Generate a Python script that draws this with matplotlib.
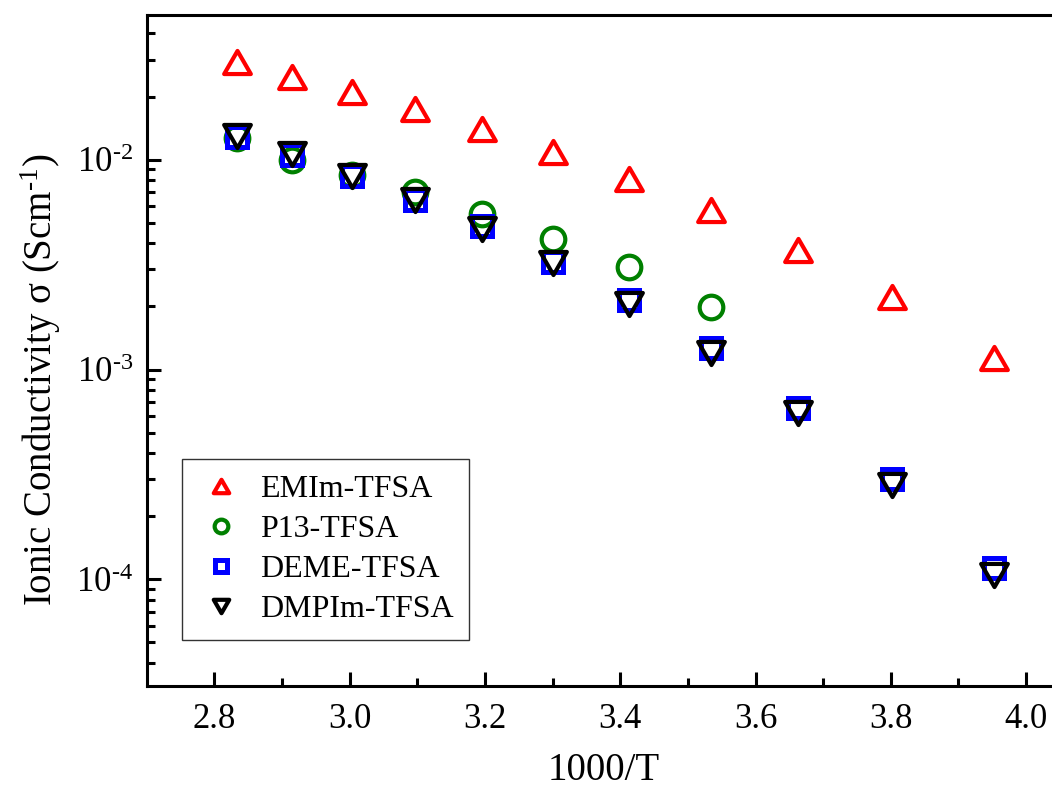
import numpy as np
import matplotlib
matplotlib.use("Agg")
import matplotlib.pyplot as plt
from matplotlib.path import Path
from matplotlib.markers import MarkerStyle
from matplotlib.ticker import LogLocator, FixedLocator, NullFormatter, FuncFormatter

plt.rcParams['font.family'] = ['Liberation Serif', 'DejaVu Serif']
plt.rcParams['mathtext.fontset'] = 'custom'
plt.rcParams['mathtext.rm'] = 'Liberation Serif'
plt.rcParams['mathtext.it'] = 'Liberation Serif:italic'
plt.rcParams['axes.unicode_minus'] = False

# ---- data ----
inv_T = [2.833, 2.915, 3.003, 3.096, 3.195, 3.300, 3.413, 3.534, 3.663, 3.802, 3.953]
emim = [0.0293, 0.0247, 0.0210, 0.0174, 0.0140, 0.0109, 0.0081, 0.00574, 0.00371, 0.00221, 0.00114]
p13 = [0.0127, 0.0100, 0.0085, 0.0070, 0.00554, 0.00417, 0.00307, 0.00198]
deme = [0.01287, 0.01056, 0.00839, 0.00645, 0.00481, 0.00326, 0.00214, 0.00126, 0.000657, 0.000300, 0.000113]
dmpim = [0.01291, 0.01065, 0.00840, 0.00645, 0.00468, 0.00322, 0.00205, 0.001197, 0.000622, 0.000283, 0.000105]
labels = ['EMIm-TFSA', 'P13-TFSA', 'DEME-TFSA', 'DMPIm-TFSA']
x_ticks = [2.8, 3.0, 3.2, 3.4, 3.6, 3.8, 4.0]

fig = plt.figure(figsize=(10.52, 7.96), dpi=100)
ax = fig.add_axes([0.1395, 0.1382, 0.8680, 0.8430])

tri_up = MarkerStyle(Path([(0, 0.433), (-0.5, -0.433), (0.5, -0.433), (0, 0.433)],
                          [Path.MOVETO, Path.LINETO, Path.LINETO, Path.CLOSEPOLY]), joinstyle='miter')
tri_dn = MarkerStyle(Path([(0, -0.433), (-0.5, 0.433), (0.5, 0.433), (0, -0.433)],
                          [Path.MOVETO, Path.LINETO, Path.LINETO, Path.CLOSEPOLY]), joinstyle='miter')

mew = 3.0
ax.plot(inv_T, emim, linestyle='none', marker=tri_up, ms=19.2, mfc='none', mec='#FF0000', mew=mew, label=labels[0])
ax.plot(inv_T[:len(p13)], p13, linestyle='none', marker='o', ms=17, mfc='none', mec='#008000', mew=mew, label=labels[1])
ax.plot(inv_T, deme, linestyle='none', marker='s', ms=14.5, mfc='none', mec='#0000FF', mew=mew + 0.6, label=labels[2])
ax.plot(inv_T, dmpim, linestyle='none', marker=tri_dn, ms=19.2, mfc='none', mec='black', mew=mew, label=labels[3])

ax.set_yscale('log')
ax.set_xlim(2.7, 4.05)
ax.set_ylim(3.1e-5, 4.9e-2)

ax.xaxis.set_major_locator(FixedLocator(x_ticks))
ax.xaxis.set_minor_locator(FixedLocator([2.9, 3.1, 3.3, 3.5, 3.7, 3.9]))
ax.set_xticklabels([f'{v:.1f}' for v in x_ticks])
ax.yaxis.set_major_locator(LogLocator(base=10, numticks=10))
ax.yaxis.set_minor_locator(LogLocator(base=10, subs=np.arange(2, 10), numticks=20))
ax.yaxis.set_minor_formatter(NullFormatter())
ax.yaxis.set_major_formatter(FuncFormatter(
    lambda v, p: '10$^{\\text{%d}}$' % int(round(np.log10(v)))))

ax.tick_params(which='both', direction='in', width=2.2, top=False, right=False)
ax.tick_params(which='major', length=10)
ax.tick_params(which='minor', length=5.5)
ax.tick_params(axis='x', which='major', labelsize=25, pad=12)
ax.tick_params(axis='y', which='major', labelsize=25, pad=10)

for s in ax.spines.values():
    s.set_linewidth(2.2)

ax.set_xlabel('1000/T', fontsize=28)
ax.xaxis.set_label_coords(0.5, -0.098)
ax.set_ylabel('Ionic Conductivity σ (Scm$^{\\text{-1}}$)', fontsize=28)
ax.yaxis.set_label_coords(-0.092, 0.456)

leg = ax.legend(loc='lower left', bbox_to_anchor=(0.039, 0.0686), borderaxespad=0,
                fontsize=23, markerscale=0.58, frameon=True, fancybox=False,
                edgecolor='black', handletextpad=0.5, labelspacing=0.33,
                borderpad=0.5, handlelength=1.42)
leg.get_frame().set_linewidth(1.0)

fig.savefig('out.png', dpi=100)
